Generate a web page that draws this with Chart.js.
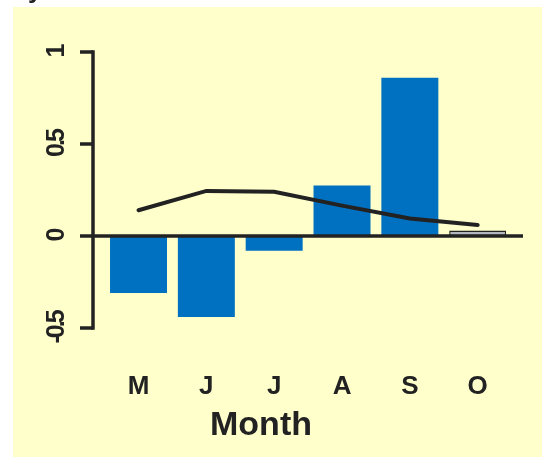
<!DOCTYPE html>
<html lang="en">
<head>
    <meta charset="UTF-8">
    <title>Monthly anomaly</title>
    <script src="https://cdn.jsdelivr.net/npm/chart.js"></script>
    <style>
        body {
            margin: 0;
            padding: 0;
            background: #ffffff;
            overflow: hidden;
        }
        #wrap {
            position: relative;
            width: 542px;
            height: 457px;
        }
        #cutLabel {
            position: absolute;
            left: 28px;
            top: -24px;
            font: bold 26px "Liberation Sans", Arial, sans-serif;
            line-height: 1;
            color: #222;
        }
    </style>
</head>
<body>
<div id="wrap">
    <canvas id="chart" width="542" height="457"></canvas>
    <div id="cutLabel">y</div>
</div>

<script>
    // data
    const months = ['M', 'J', 'J', 'A', 'S', 'O'];
    const barValues = [-0.31, -0.44, -0.08, 0.275, 0.86, 0.03];
    const lineValues = [0.14, 0.245, 0.24, 0.165, 0.095, 0.06];
    const yTicks = [-0.5, 0, 0.5, 1];
    const yTickLabels = ['-0.5', '0', '0.5', '1'];
    const xTitle = 'Month';

    const ink = '#222222';
    const barBlue = '#0070c0';
    const barColors = months.map((m, i) => i === months.length - 1 ? '#b2b6bf' : barBlue);
    const barBorders = months.map((m, i) => i === months.length - 1 ? 1.5 : 0);

    // yellow panel + R style axis drawn through the y scale
    const rAxis = {
        id: 'rAxis',
        beforeDraw(chart) {
            const ctx = chart.ctx;
            ctx.save();
            ctx.fillStyle = '#ffffcc';
            ctx.fillRect(13, 7, chart.width - 13, chart.height - 7);
            ctx.restore();
        },
        afterDatasetsDraw(chart) {
            const ctx = chart.ctx;
            const y = chart.scales.y;
            const area = chart.chartArea;
            const axisX = area.left - 11.6;
            ctx.save();
            ctx.strokeStyle = ink;
            ctx.lineWidth = 3.5;
            ctx.lineCap = 'butt';

            // zero line
            ctx.beginPath();
            ctx.moveTo(axisX, y.getPixelForValue(0));
            ctx.lineTo(area.right + 11.4, y.getPixelForValue(0));
            ctx.stroke();

            // vertical axis
            ctx.beginPath();
            ctx.moveTo(axisX, y.getPixelForValue(yTicks[0]) + 1.7);
            ctx.lineTo(axisX, y.getPixelForValue(yTicks[yTicks.length - 1]) - 1.7);
            ctx.stroke();

            ctx.fillStyle = ink;
            ctx.font = 'bold 25px "Liberation Sans", Arial, sans-serif';
            ctx.textAlign = 'center';
            ctx.textBaseline = 'alphabetic';
            yTicks.forEach((v, i) => {
                const py = y.getPixelForValue(v);
                ctx.beginPath();
                ctx.moveTo(axisX - 13, py);
                ctx.lineTo(axisX, py);
                ctx.stroke();

                ctx.save();
                ctx.translate(64, py);
                ctx.rotate(-Math.PI / 2);
                ctx.letterSpacing = '-3px';
                ctx.fillText(yTickLabels[i], 0, 0);
                ctx.restore();
            });

            // axis title, centred like R does it
            ctx.font = 'bold 34px "Liberation Sans", Arial, sans-serif';
            ctx.textBaseline = 'middle';
            ctx.fillText(xTitle, 261, 426);
            ctx.restore();
        }
    };

    new Chart(document.getElementById('chart'), {
        type: 'bar',
        data: {
            labels: months,
            datasets: [{
                type: 'line',
                data: lineValues,
                borderColor: ink,
                borderWidth: 4,
                borderCapStyle: 'round',
                pointRadius: 0,
                tension: 0,
                fill: false,
                order: 0
            }, {
                data: barValues,
                backgroundColor: barColors,
                borderColor: ink,
                borderWidth: barBorders,
                borderSkipped: false,
                categoryPercentage: 1,
                barPercentage: 0.84,
                order: 1
            }]
        },
        options: {
            responsive: false,
            animation: false,
            layout: {
                padding: { left: 104.6, right: 30.4, top: 52, bottom: 10.6 }
            },
            plugins: {
                legend: { display: false },
                tooltip: { enabled: false }
            },
            scales: {
                x: {
                    grid: { display: false },
                    border: { display: false },
                    afterFit(scale) {
                        scale.height = 118.4;
                    },
                    ticks: {
                        padding: 35,
                        color: ink,
                        font: { family: '"Liberation Sans", Arial, sans-serif', size: 26, weight: 'bold' }
                    }
                },
                y: {
                    display: false,
                    min: -0.5,
                    max: 1
                }
            }
        },
        plugins: [rAxis]
    });
</script>
</body>
</html>
